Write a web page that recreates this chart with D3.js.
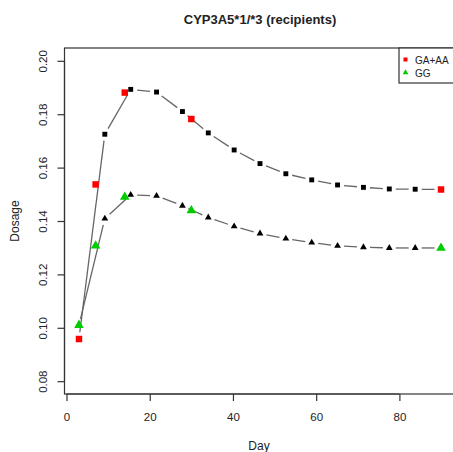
<!DOCTYPE html>
<html><head><meta charset="utf-8">
<script src="https://cdn.jsdelivr.net/npm/d3@7"></script>
<style>body{margin:0;background:#fff}svg{display:block}text{font-family:"Liberation Sans",Arial,sans-serif;fill:#222}</style>
</head><body><svg id="c" width="453" height="452"></svg>
<script>
const title = "CYP3A5*1/*3 (recipients)";
const xTicks = [0, 20, 40, 60, 80];
const yTicks = [0.08, 0.10, 0.12, 0.14, 0.16, 0.18, 0.20];
const modelDays = [3, 9.21, 15.43, 21.64, 27.86, 34.07, 40.29, 46.5, 52.71, 58.93, 65.14, 71.36, 77.57, 83.79, 90];
const modelGAAA = [0.0959, 0.1725, 0.1893, 0.1883, 0.1810, 0.1730, 0.1666, 0.1615, 0.1577, 0.1554, 0.1535, 0.1526, 0.1520, 0.1519, 0.1518];
const modelGG   = [0.1010, 0.1409, 0.1498, 0.1494, 0.1457, 0.1413, 0.1380, 0.1353, 0.1334, 0.1319, 0.1307, 0.1302, 0.1299, 0.1299, 0.1299];
const obsDays = [3, 7, 14, 30, 90];
const obsGAAA = [0.0958, 0.1537, 0.1881, 0.1782, 0.1518];
const obsGG   = [0.1010, 0.1307, 0.1490, 0.1439, 0.1299];
const legendLabels = ["GA+AA", "GG"];

const svg = d3.select("#c");
const L = 64.5, R = 455.5, T = 48, B = 394;
const x = d3.scaleLinear().domain([-0.48, 93.48]).range([L, R]);
const y = d3.scaleLinear().domain([0.0752, 0.2048]).range([B, T]);

// box
svg.append("rect").attr("x", L).attr("y", T).attr("width", R - L).attr("height", B - T)
  .attr("fill", "none").attr("stroke", "#333").attr("stroke-width", 1.2);

// axes
const xAx = svg.append("g").attr("transform", `translate(0,${B})`)
  .call(d3.axisBottom(x).tickValues(xTicks).tickSize(7).tickPadding(12).tickFormat(d3.format("d")));
const yAx = svg.append("g").attr("transform", `translate(${L},0)`)
  .call(d3.axisLeft(y).tickValues(yTicks).tickSize(7).tickFormat(d3.format(".2f")));
[xAx, yAx].forEach(a => {
  a.select(".domain").attr("stroke", "#333").attr("stroke-width", 1.2);
  a.selectAll(".tick line").attr("stroke", "#333").attr("stroke-width", 1.2);
  a.selectAll("text").style("font-size", "11.5px").attr("fill", "#222");
});
xAx.select(".domain").attr("d", `M${x(0)},0H${x(80)}`);
yAx.select(".domain").attr("d", `M0,${y(0.08)}V${y(0.20)}`);
yAx.selectAll(".tick text").attr("x", null).attr("dy", null)
  .attr("text-anchor", "middle")
  .attr("transform", "translate(-22,0) rotate(-90)").attr("dy", "0.35em");

// labels
svg.append("text").attr("x", 260).attr("y", 24).attr("text-anchor", "middle")
  .style("font-size", "13px").style("font-weight", "bold").text(title);
svg.append("text").attr("x", 259).attr("y", 450).attr("text-anchor", "middle")
  .style("font-size", "12px").text("Day");
svg.append("text").attr("transform", `translate(15,${(T + B) / 2}) rotate(-90)`)
  .attr("dy", "0.35em").attr("text-anchor", "middle").style("font-size", "12px").text("Dosage");

// type "b" lines
function drawB(vals) {
  const g = svg.append("g");
  const gap = 6.5;
  for (let i = 0; i < modelDays.length - 1; i++) {
    const x0 = x(modelDays[i]), y0 = y(vals[i]), x1 = x(modelDays[i + 1]), y1 = y(vals[i + 1]);
    const len = Math.hypot(x1 - x0, y1 - y0);
    if (len <= 2 * gap) continue;
    const ux = (x1 - x0) / len, uy = (y1 - y0) / len;
    g.append("line").attr("x1", x0 + ux * gap).attr("y1", y0 + uy * gap)
      .attr("x2", x1 - ux * gap).attr("y2", y1 - uy * gap)
      .attr("stroke", "#666").attr("stroke-width", 1.3);
  }
}
drawB(modelGAAA);
drawB(modelGG);

const sq = d3.symbol().type(d3.symbolSquare);
const tri = d3.symbol().type(d3.symbolTriangle);
svg.append("g").selectAll("path").data(modelDays).join("path")
  .attr("transform", (d, i) => `translate(${x(d)},${y(modelGAAA[i])})`)
  .attr("d", sq.size(24)()).attr("fill", "#000");
svg.append("g").selectAll("path").data(modelDays).join("path")
  .attr("transform", (d, i) => `translate(${x(d)},${y(modelGG[i])})`)
  .attr("d", tri.size(20)()).attr("fill", "#000");
svg.append("g").selectAll("path").data(obsDays).join("path")
  .attr("transform", (d, i) => `translate(${x(d)},${y(obsGAAA[i])})`)
  .attr("d", sq.size(42)()).attr("fill", "#f00");
svg.append("g").selectAll("path").data(obsDays).join("path")
  .attr("transform", (d, i) => `translate(${x(d)},${y(obsGG[i])})`)
  .attr("d", tri.size(40)()).attr("fill", "#0c0");

// legend
const lg = svg.append("g");
lg.append("rect").attr("x", 399).attr("y", T).attr("width", R - 399).attr("height", 35)
  .attr("fill", "#fff").attr("stroke", "#333").attr("stroke-width", 1.2);
lg.append("path").attr("transform", "translate(405.5,59.5)").attr("d", sq.size(16)()).attr("fill", "#f00");
lg.append("path").attr("transform", "translate(405.5,72.5)").attr("d", tri.size(14)()).attr("fill", "#0c0");
lg.append("text").attr("x", 415).attr("y", 64).style("font-size", "10px").text(legendLabels[0]);
lg.append("text").attr("x", 415).attr("y", 77).style("font-size", "10px").text(legendLabels[1]);
</script></body></html>
